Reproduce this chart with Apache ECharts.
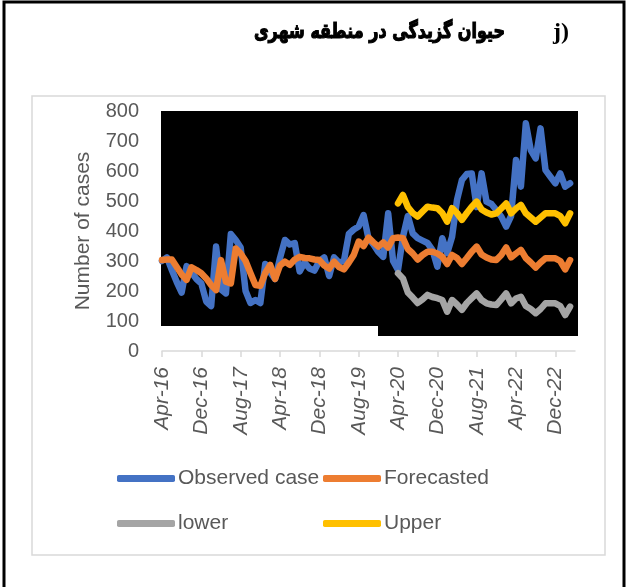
<!DOCTYPE html>
<html>
<head>
<meta charset="utf-8">
<script src="https://cdn.jsdelivr.net/npm/echarts@6/dist/echarts.min.js"></script>
<style>html,body{margin:0;padding:0;background:#fff;}#c{width:627px;height:587px;}</style>
</head>
<body>
<div id="c"></div>
<script>
// Month categories Apr-16 .. Apr-23
var monthNames = ['Jan','Feb','Mar','Apr','May','Jun','Jul','Aug','Sep','Oct','Nov','Dec'];
var categories = [];
for (var k = 0; k < 85; k++) {
  var m = (3 + k) % 12;
  var y = 16 + Math.floor((3 + k) / 12);
  categories.push(monthNames[m] + '-' + y);
}
var yTicks = [0, 100, 200, 300, 400, 500, 600, 700, 800];

var observed = [300,312,270,230,195,283,262,240,225,165,150,348,205,192,390,370,345,200,160,170,
  160,290,262,240,310,370,355,360,265,295,275,268,300,312,250,312,295,300,390,405,
  415,453,375,355,330,314,459,300,270,380,450,392,376,368,360,337,281,376,326,381,
  503,570,590,592,480,592,498,490,470,448,415,450,637,548,759,670,642,742,603,581,
  559,592,548,559,null];
var forecasted = [303,305,305,280,255,237,279,270,259,242,220,203,303,231,225,342,325,300,259,220,
  217,260,287,240,285,298,287,305,314,310,309,305,303,285,275,298,280,272,295,320,
  365,350,378,362,348,362,345,376,378,376,340,325,305,320,331,331,325,314,290,320,
  310,290,310,331,348,322,312,305,303,320,345,312,325,337,310,295,278,295,309,309,
  309,300,272,303,null];
var boundStart = 48; // Apr-20
var upperVals = [492,520,480,460,448,465,481,478,476,460,431,476,460,437,460,481,498,472,462,455,
  459,475,492,459,475,487,459,445,431,445,459,459,459,450,426,459];
var lowerVals = [259,242,195,178,160,172,187,180,176,170,131,170,155,137,160,176,192,170,159,155,
  153,172,192,159,175,181,150,140,126,140,159,159,159,150,120,148];

function pad(vals) {
  var out = [];
  for (var i = 0; i < boundStart; i++) out.push(null);
  return out.concat(vals).concat([null]);
}

var chart = echarts.init(document.getElementById('c'), null, {renderer: 'canvas'});
var txt = '#595959';
function lineSeries(name, data, color) {
  return {
    name: name, type: 'line', data: data, symbol: 'none', smooth: false,
    connectNulls: false, z: 3,
    lineStyle: {color: color, width: 6.5, cap: 'round', join: 'round'},
    itemStyle: {color: color}
  };
}
function legendAt(name, left, top) {
  return {
    data: [name], left: left, top: top, icon: 'roundRect',
    itemWidth: 58, itemHeight: 7, itemGap: 0, padding: 0,
    textStyle: {fontFamily: 'Liberation Sans', fontSize: 21, color: txt, padding: [0,0,0,-2]},
    selectedMode: false
  };
}
chart.setOption({
  animation: false,
  backgroundColor: '#ffffff',
  graphic: [
    {type: 'rect', shape: {x: 4, y: 2, width: 620, height: 600}, style: {fill: 'none', stroke: '#000', lineWidth: 3}, silent: true},
    {type: 'rect', shape: {x: 32, y: 96, width: 573, height: 459}, style: {fill: 'none', stroke: '#d9d9d9', lineWidth: 1.5}, silent: true},
    {type: 'rect', shape: {x: 161, y: 111, width: 417, height: 225}, style: {fill: '#000'}, z: 0, silent: true},
    {type: 'rect', shape: {x: 161, y: 326, width: 217, height: 11}, style: {fill: '#fff'}, z: 0, silent: true},
    {type: 'text', x: 505, y: 33, scaleY: 1.3, style: {text: 'حیوان گزیدگی در منطقه شهری', fontFamily: 'DejaVu Sans', fontWeight: 'bold', fontSize: 16, fill: '#000', stroke: '#000', lineWidth: 0.9, align: 'right', verticalAlign: 'middle'}, silent: true},
    {type: 'text', x: 553, y: 33, style: {text: 'j)', fontFamily: 'Liberation Serif', fontWeight: 'bold', fontSize: 24, fill: '#000', align: 'left', verticalAlign: 'middle'}, silent: true}
  ],
  legend: [
    legendAt('Observed case', 117, 468),
    legendAt('Forecasted', 323, 468),
    legendAt('lower', 117, 513),
    legendAt('Upper', 323, 513)
  ],
  grid: {left: 162, right: 52, top: 111, height: 240, containLabel: false},
  xAxis: {
    type: 'category', data: categories, boundaryGap: false,
    axisLine: {show: true, lineStyle: {color: '#d9d9d9', width: 1.5}},
    axisTick: {show: true, interval: 7, length: 6, lineStyle: {color: '#d9d9d9', width: 1.5}},
    axisLabel: {interval: 7, rotate: 90, margin: 16, fontFamily: 'Liberation Sans', fontStyle: 'italic', fontSize: 21, color: txt},
    splitLine: {show: false}
  },
  yAxis: {
    type: 'value', min: yTicks[0], max: yTicks[yTicks.length - 1], interval: 100,
    axisLine: {show: false}, axisTick: {show: false}, splitLine: {show: false},
    axisLabel: {margin: 23, fontFamily: 'Liberation Sans', fontSize: 20, color: txt},
    name: 'Number of cases', nameLocation: 'middle', nameRotate: 90, nameGap: 68,
    nameTextStyle: {fontFamily: 'Liberation Sans', fontSize: 21, color: txt}
  },
  series: [
    lineSeries('Observed case', observed, '#4472C4'),
    lineSeries('Forecasted', forecasted, '#ED7D31'),
    lineSeries('lower', pad(lowerVals), '#A5A5A5'),
    lineSeries('Upper', pad(upperVals), '#FFC000')
  ]
});
</script>
</body>
</html>
